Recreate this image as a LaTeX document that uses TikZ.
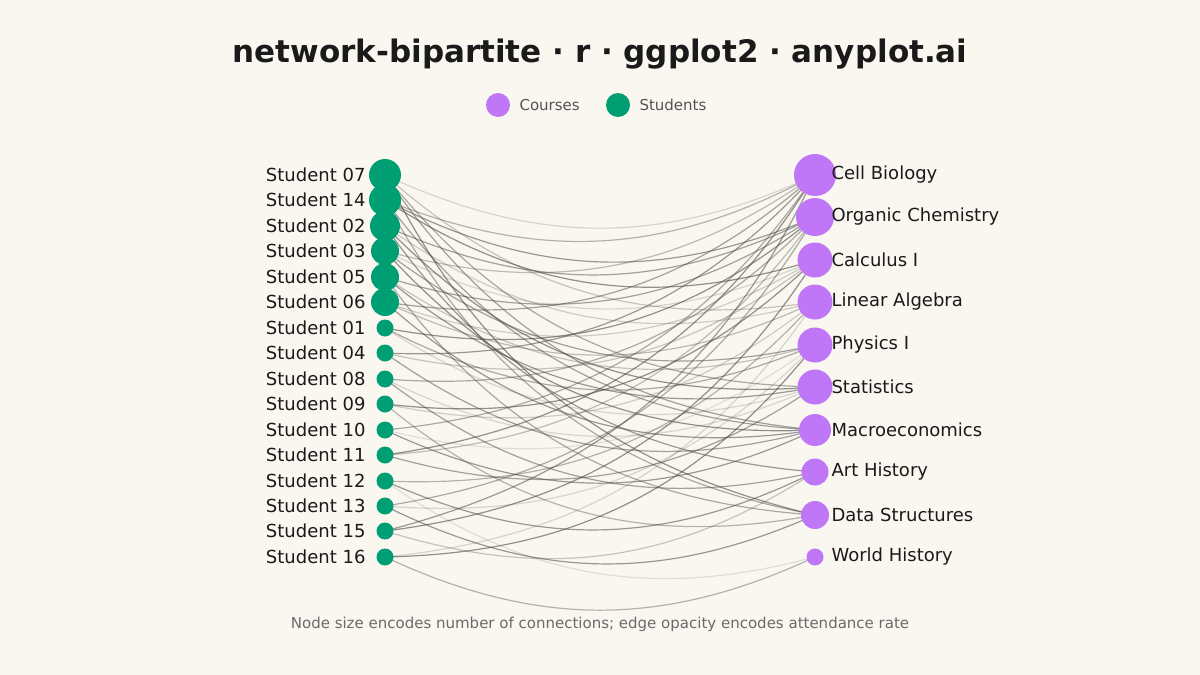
\documentclass[tikz,border=0pt]{standalone}
\usepackage{fontspec}
\setmainfont{DejaVu Sans}
\definecolor{bg}{HTML}{FAF7F1}
\definecolor{stud}{HTML}{009E73}
\definecolor{course}{HTML}{C077F7}
\definecolor{ink}{HTML}{1A1A1A}
\definecolor{edge}{HTML}{4A4A45}
\pgfdeclarelayer{back}
\pgfdeclarelayer{edges}
\pgfsetlayers{back,edges,main}
\tikzset{
  dot/.style={circle, inner sep=0pt, minimum size=#1},
  slabel/.style={anchor=east, font=\fontsize{18}{20}\selectfont, text=ink},
  clabel/.style={anchor=west, font=\fontsize{18}{20}\selectfont, text=ink},
  link/.style={draw=edge, line width=1.2pt, draw opacity=#1, bend right=25}
}
\begin{document}
\begin{tikzpicture}[x=1pt, y=-1pt]
        \begin{pgfonlayer}{back}
          \fill[bg] (0,0) rectangle (1200,675);
        \end{pgfonlayer}
        \useasboundingbox (0,0) rectangle (1200,675);

        % title and legend
        \node[font=\bfseries\fontsize{31}{36}\selectfont, text=ink] (title) at (600,54) {network-bipartite · r · ggplot2 · anyplot.ai};
        \node[dot=24pt, fill=course] (legc) at (498,105) {};
        \node[anchor=west, font=\fontsize{15}{18}\selectfont, text=ink!75] (legct) at (516,105) {Courses};
        \node[dot=24pt, fill=stud] (legs) at (618,105) {};
        \node[anchor=west, font=\fontsize{15}{18}\selectfont, text=ink!75] (legst) at (636,105) {Students};

        % students
        \foreach \n/\y/\r in {07/175/32,14/200/32,02/226/30,03/251/28,05/277/28,06/302/28,
            01/328/17,04/353/17,08/379/17,09/404/17,10/430/17,11/455/17,
            12/481/17,13/506/17,15/531/17,16/557/17}
          {\node[dot=\r pt, fill=stud] (s\n) at (385,\y) {};
           \node[slabel] (ls\n) at (369,\y) {Student \n};}
        % courses
        \foreach \i/\name/\y/\r in {1/Cell Biology/175/42,2/Organic Chemistry/217/38,3/Calculus I/260/35,
            4/Linear Algebra/302/35,5/Physics I/345/35,6/Statistics/387/35,
            7/Macroeconomics/430/32,8/Art History/472/27,9/Data Structures/515/28,10/World History/557/17}
          {\node[dot=\r pt, fill=course] (c\i) at (815,\y) {};
           \node[clabel] (lc\i) at (828,\y) {\name};}

        % edges (student / course / opacity)
        \begin{pgfonlayer}{edges}
        \foreach \s/\c/\o in {07/1/0.2,07/4/0.3,07/6/0.45,07/7/0.5,07/9/0.6,
            14/1/0.4,14/2/0.55,14/3/0.6,14/7/0.5,14/9/0.45,
            02/2/0.5,02/4/0.25,02/6/0.6,02/8/0.55,
            03/1/0.35,03/3/0.2,03/5/0.5,03/7/0.6,
            05/2/0.5,05/5/0.3,05/6/0.55,05/9/0.45,
            06/1/0.5,06/3/0.25,06/4/0.35,06/7/0.55,
            01/2/0.6,01/5/0.45,01/6/0.2,
            04/1/0.55,04/3/0.3,04/7/0.5,
            08/2/0.45,08/6/0.2,08/8/0.5,
            09/3/0.6,09/4/0.25,09/9/0.4,
            10/1/0.45,10/5/0.15,10/7/0.55,
            11/1/0.6,11/2/0.35,11/6/0.5,
            12/4/0.4,12/8/0.55,12/10/0.15,
            13/2/0.45,13/5/0.2,13/9/0.55,
            15/1/0.55,15/3/0.6,15/8/0.3,
            16/4/0.2,16/5/0.6,16/10/0.4}
          {\draw[link=\o] (s\s.center) to (c\c.center);}
        \end{pgfonlayer}

        % caption
        \node[font=\fontsize{15}{18}\selectfont, text=ink!65] (note) at (600,624) {Node size encodes number of connections; edge opacity encodes attendance rate};
\end{tikzpicture}
\end{document}
